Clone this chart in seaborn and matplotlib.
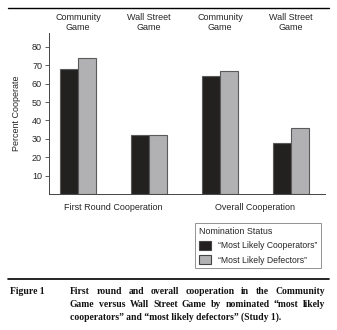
import matplotlib
matplotlib.use("Agg")
import matplotlib.pyplot as plt
import seaborn as sns
import pandas as pd
from matplotlib.patches import Patch

groups = ["FR_Community", "FR_WallStreet", "OV_Community", "OV_WallStreet"]
top_labels = ["Community\nGame", "Wall Street\nGame", "Community\nGame", "Wall Street\nGame"]
bottom_labels = ["First Round Cooperation", "Overall Cooperation"]
series = ["\u201cMost Likely Cooperators\u201d", "\u201cMost Likely Defectors\u201d"]
cooperators = [68, 32, 64, 28]
defectors = [74, 32, 67, 36]
yticks = [10, 20, 30, 40, 50, 60, 70, 80]

df = pd.DataFrame({
    "group": groups * 2,
    "status": [series[0]] * 4 + [series[1]] * 4,
    "value": cooperators + defectors,
})

sns.set_style("ticks")
plt.rcParams["font.family"] = ["Liberation Sans", "DejaVu Sans"]
colors = ["#231f20", "#b1b1b3"]

W, H = 337, 330
fig = plt.figure(figsize=(3.37, 3.30), dpi=100)
ax = fig.add_axes([0.1454, 0.412, 0.8190, 0.488])
sns.barplot(data=df, x="group", y="value", hue="status", order=groups,
            hue_order=series, palette=colors, width=0.51, ax=ax,
            edgecolor="#5a5a5a", linewidth=0.8, legend=False, errorbar=None)
ax.set_xlim(-0.41, 3.48)
ax.set_ylim(0, 87.5)
ax.set_yticks(yticks)
ax.set_yticklabels([str(v) for v in yticks], fontsize=6.5)
ax.set_xticks([])
ax.set_xlabel("")
ax.set_ylabel("Percent Cooperate", fontsize=6.5, labelpad=8)
ax.tick_params(axis="y", length=3, width=0.6, pad=2, color="#444")
for s in ["top", "right"]:
    ax.spines[s].set_visible(False)
for s in ["left", "bottom"]:
    ax.spines[s].set_linewidth(0.7)
    ax.spines[s].set_color("#444")

for i, lab in enumerate(top_labels):
    ax.text(i, 1.005, lab, transform=ax.get_xaxis_transform(), ha="center",
            va="bottom", fontsize=6.5, linespacing=1.1)
for i, lab in enumerate(bottom_labels):
    ax.text(0.5 + 2 * i, -0.085, lab, transform=ax.get_xaxis_transform(),
            ha="center", va="center", fontsize=6.5)

handles = [Patch(facecolor=c, edgecolor="#444", linewidth=0.8) for c in colors]
leg = fig.legend(handles, series, title="Nomination Status",
                 loc="upper left", bbox_to_anchor=(195 / W, 1 - 223 / H),
                 fontsize=6.2, title_fontsize=6.4, frameon=True,
                 fancybox=False, edgecolor="#777", handlelength=1.4,
                 handleheight=1.15, handletextpad=0.8, borderpad=0.45,
                 borderaxespad=0, labelspacing=0.6, alignment="left")
leg.get_frame().set_linewidth(0.7)

fig.add_artist(plt.Line2D([0.024, 0.975], [0.975, 0.975], color="black", lw=1.0, transform=fig.transFigure))
fig.add_artist(plt.Line2D([0.024, 0.975], [1 - 279 / H, 1 - 279 / H], color="black", lw=1.2, transform=fig.transFigure))

cap_font = dict(family=["Liberation Serif", "DejaVu Serif"], fontweight="bold", fontsize=6.9, color="#111")
ys = [1 - 291.5 / H, 1 - 304.5 / H, 1 - 317.5 / H]
fig.text(10 / W, ys[0], "Figure 1", va="center", ha="left", **cap_font)
cap_lines = ["First round and overall cooperation in the Community",
             "Game versus Wall Street Game by nominated \u201cmost likely",
             "cooperators\u201d and \u201cmost likely defectors\u201d (Study 1)."]
x0, x1 = 70 / W, 325 / W
fig.canvas.draw()
renderer = fig.canvas.get_renderer()
for k, line in enumerate(cap_lines):
    if k == len(cap_lines) - 1:
        fig.text(x0, ys[k], line, va="center", ha="left", **cap_font)
        continue
    words = line.split(" ")
    texts = [fig.text(0, ys[k], w, va="center", ha="left", **cap_font) for w in words]
    widths = [t.get_window_extent(renderer).width / fig.bbox.width for t in texts]
    gap = max((x1 - x0 - sum(widths)) / (len(words) - 1), 2.0 / W)
    x = x0
    for t, w in zip(texts, widths):
        t.set_x(x)
        x += w + gap

fig.savefig("out.png", dpi=100)
